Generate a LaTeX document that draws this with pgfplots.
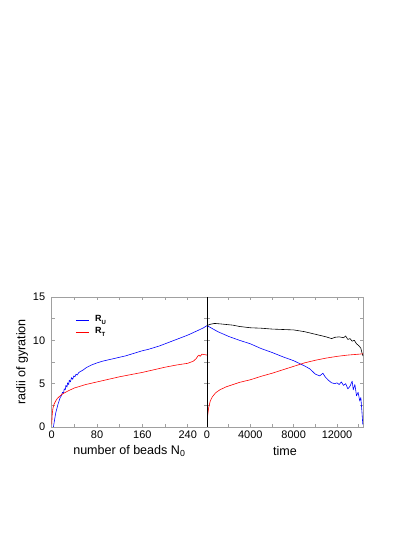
\documentclass[border=0pt]{standalone}
\usepackage{fontspec}
\setmainfont{Liberation Sans}
\usepackage{pgfplots}
\pgfplotsset{compat=1.18}
\definecolor{frame}{HTML}{A0A0A0}
\tikzset{
  cv/.style={line width=0.6pt, line join=round},
  lg/.style={font=\fontsize{9}{10}\selectfont\bfseries, anchor=west, inner sep=0pt},
}
\pgfplotsset{
  gp/.style={
    scale only axis, height=130bp, ymin=0, ymax=15,
    ytick={0,5,10,15}, minor ytick={2.5,7.5,12.5},
    tick align=inside, major tick length=3bp, minor tick length=3bp,
    axis line style={frame, line width=0.6pt},
    every tick/.style={frame, line width=0.5pt},
    tick label style={font=\fontsize{11}{13}\selectfont},
    label style={font=\fontsize{12.6}{14}\selectfont},
    /pgf/number format/assume math mode=true,
    /pgf/number format/1000 sep={},
    scaled ticks=false,
    xlabel style={at={(axis description cs:0.5,-0.185)}, anchor=center},
    clip=true,
  },
}
\newcommand{\sub}[1]{\raisebox{-0.5ex}{\fontsize{6}{6}\selectfont\bfseries #1}}
\begin{document}
\begin{tikzpicture}
\useasboundingbox (0,0) rectangle (415bp,537bp);
\begin{axis}[gp, at={(51.7bp,110bp)}, anchor=south west, width=155.3bp,
  xmin=0, xmax=274, xtick={0,80,160,240}, minor xtick={40,120,200},
  yticklabel style={xshift=-3bp},
  xlabel={number of beads N\textsubscript{0}},
  ylabel={radii of gyration},
  ylabel style={at={(axis description cs:-0.19,0.5)}, anchor=center},
]
\addplot[cv, blue] coordinates {
(3,0) (5,0.8) (7,1.6) (9,2.1) (11,2.6) (13,3.0) (15,3.4) (17,3.6) (19,4.0) (21,3.9) (22,4.4)
(24,4.3) (25,4.8) (27,4.6) (28,5.1) (30,4.9) (31,5.4) (33,5.2) (35,5.7) (37,5.5) (39,5.9)
(41,5.8) (43,6.1) (45,6.0) (48,6.3) (52,6.45) (56,6.6) (61,6.85) (70,7.15) (80,7.4) (90,7.6)
(100,7.75) (110,7.9) (120,8.05) (130,8.2) (140,8.4) (150,8.6) (160,8.8) (170,8.95) (180,9.15)
(190,9.35) (200,9.6) (210,9.85) (220,10.1) (230,10.35) (240,10.6) (250,10.9) (260,11.2)
(268,11.45) (274,11.7)};
\addplot[cv, red] coordinates {
(0,0.3) (1,1.5) (2,2.1) (4,2.6) (7,3.0) (10,3.3) (15,3.6) (20,3.85) (30,4.2) (40,4.5) (50,4.7)
(60,4.9) (70,5.05) (80,5.2) (100,5.5) (120,5.8) (140,6.05) (160,6.3) (180,6.6) (200,6.9)
(220,7.15) (240,7.35) (250,7.6) (255,7.9) (258,8.2) (260,8.3) (262,8.15) (265,8.4) (270,8.35)
(274,8.3)};
% legend
\draw[cv, blue] (axis description cs:0.156,0.823) -- (axis description cs:0.240,0.823);
\draw[cv, red] (axis description cs:0.156,0.731) -- (axis description cs:0.240,0.731);
\node[lg] at (axis description cs:0.279,0.823) {R\sub{U}};
\node[lg] at (axis description cs:0.279,0.731) {R\sub{T}};
\end{axis}
\begin{axis}[gp, at={(207bp,110bp)}, anchor=south west, width=156bp,
  xmin=0, xmax=14400, xtick={0,4000,8000,12000}, minor xtick={2000,6000,10000,14000},
  yticklabels={},
  xlabel={time},
]
\addplot[cv, black] coordinates {
(0,11.7) (300,11.85) (700,11.95) (1200,11.9) (2000,11.8) (2400,11.75) (3000,11.6) (4000,11.45)
(5000,11.4) (6000,11.3) (7000,11.25) (8000,11.2) (8500,11.1) (9000,11.0) (9500,10.85)
(10000,10.7) (10500,10.55) (11000,10.4) (11500,10.2) (11800,10.35) (12200,10.4) (12600,10.3)
(12800,10.5) (13000,10.1) (13200,10.2) (13400,9.9) (13600,10.0) (13800,9.6) (14000,9.4)
(14200,9.1) (14300,8.6) (14400,8.2)};
\addplot[cv, blue] coordinates {
(0,11.7) (1000,11.0) (2000,10.45) (3000,10.0) (4000,9.6) (5000,9.05) (6000,8.6) (7000,8.1)
(8000,7.65) (9000,7.05) (9500,6.7) (10000,6.1) (10400,5.9) (10700,6.2) (10900,5.8) (11200,5.4)
(11500,5.1) (11800,5.0) (12000,5.1) (12200,4.9) (12400,5.2) (12600,4.8) (12800,5.0) (13000,4.4)
(13200,4.7) (13400,5.3) (13500,4.3) (13650,4.9) (13800,3.6) (13950,4.0) (14100,3.0) (14200,3.4)
(14300,1.8) (14380,0.3)};
\addplot[cv, red] coordinates {
(0,0) (50,1.2) (150,2.2) (300,3.0) (500,3.5) (800,3.95) (1200,4.3) (1800,4.65) (2400,4.9)
(3000,5.15) (4000,5.45) (5000,5.85) (6000,6.2) (7000,6.6) (8000,7.0) (9000,7.4) (10000,7.7)
(11000,7.95) (12000,8.15) (13000,8.3) (14000,8.4) (14400,8.45)};
\draw[black, line width=0.8pt] (axis description cs:0,0) -- (axis description cs:0,1);
\end{axis}
\end{tikzpicture}
\end{document}
